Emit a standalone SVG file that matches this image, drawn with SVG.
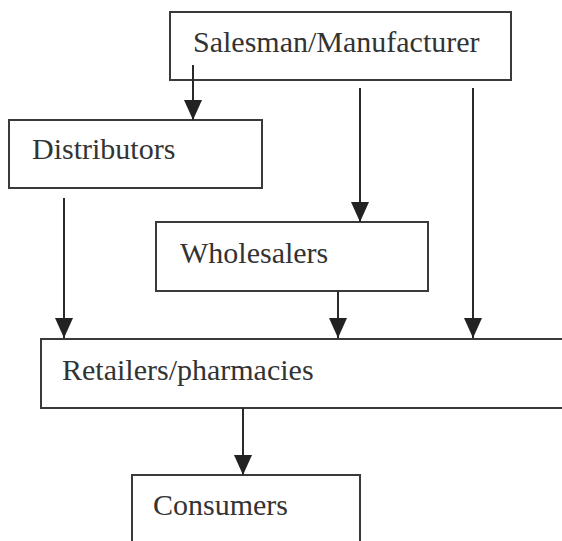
<svg xmlns="http://www.w3.org/2000/svg" width="562" height="541" viewBox="0 0 562 541">
<style>
.box{fill:#fff;stroke:#3a3a3a;stroke-width:2}
.lbl{font-family:"Liberation Serif","Times New Roman",serif;font-size:30px;fill:#333}
.edge{stroke:#2a2a2a;stroke-width:2;fill:none;marker-end:url(#ah)}
</style>
<defs>
<marker id="ah" markerUnits="userSpaceOnUse" markerWidth="20" markerHeight="18" refX="20" refY="9" orient="auto" viewBox="0 0 20 18">
<path d="M0,0 L20,9 L0,18 Z" fill="#222"/>
</marker>
</defs>
<rect width="562" height="541" fill="#fff"/>
<g id="salesman"><rect class="box" x="170" y="12" width="341" height="68"/><text class="lbl" x="193" y="52">Salesman/Manufacturer</text></g>
<g id="distributors"><rect class="box" x="9" y="120" width="253" height="68"/><text class="lbl" x="32" y="159">Distributors</text></g>
<g id="wholesalers"><rect class="box" x="156" y="222" width="272" height="69"/><text class="lbl" x="180" y="263">Wholesalers</text></g>
<g id="retailers"><rect class="box" x="41" y="339" width="530" height="69"/><text class="lbl" x="62" y="380">Retailers/pharmacies</text></g>
<g id="consumers"><rect class="box" x="132" y="475" width="228" height="80"/><text class="lbl" x="153" y="515">Consumers</text></g>
<g id="connectors">
<path class="edge" d="M193,65 V120"/>
<path class="edge" d="M360,88 V222"/>
<path class="edge" d="M473,88 V338"/>
<path class="edge" d="M64,198 V338"/>
<path class="edge" d="M338,291 V338"/>
<path class="edge" d="M243,408 V475"/>
</g>
</svg>
